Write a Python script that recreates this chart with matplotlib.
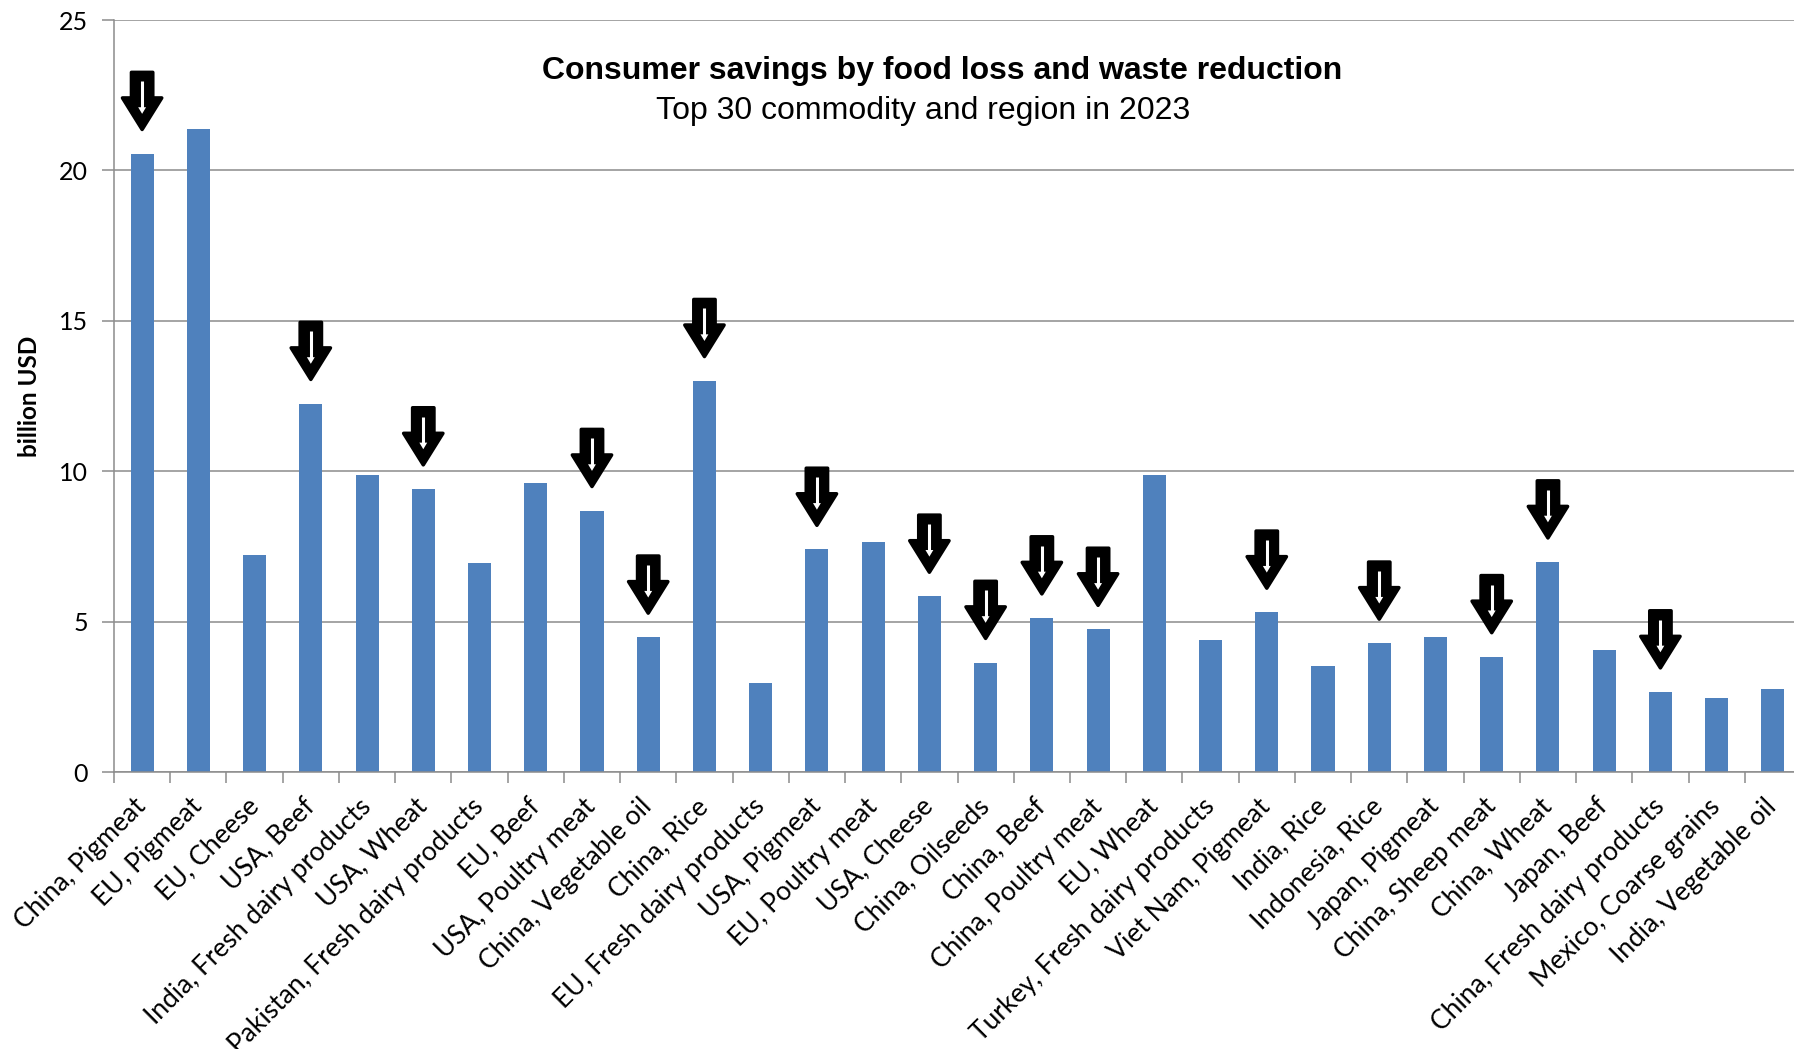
import matplotlib
matplotlib.use("Agg")
import matplotlib.pyplot as plt
from matplotlib.patches import Polygon
import numpy as np

categories = [
    "China, Pigmeat", "EU, Pigmeat", "EU, Cheese", "USA, Beef",
    "India, Fresh dairy products", "USA, Wheat", "Pakistan, Fresh dairy products",
    "EU, Beef", "USA, Poultry meat", "China, Vegetable oil", "China, Rice",
    "EU, Fresh dairy products", "USA, Pigmeat", "EU, Poultry meat", "USA, Cheese",
    "China, Oilseeds", "China, Beef", "China, Poultry meat", "EU, Wheat",
    "Turkey, Fresh dairy products", "Viet Nam, Pigmeat", "India, Rice",
    "Indonesia, Rice", "Japan, Pigmeat", "China, Sheep meat", "China, Wheat",
    "Japan, Beef", "China, Fresh dairy products", "Mexico, Coarse grains",
    "India, Vegetable oil",
]
values = [20.56, 21.36, 7.21, 12.25, 9.86, 9.41, 6.94, 9.60, 8.69, 4.48,
          13.01, 2.96, 7.40, 7.66, 5.84, 3.64, 5.12, 4.74, 9.86, 4.40,
          5.31, 3.53, 4.28, 4.48, 3.83, 6.98, 4.04, 2.66, 2.46, 2.77]
# categories marked with a down arrow
arrow_marked = [1, 0, 0, 1, 0, 1, 0, 0, 1, 1,
                1, 0, 1, 0, 1, 1, 1, 1, 0, 0,
                1, 0, 1, 0, 1, 1, 0, 1, 0, 0]
yticks = [0, 5, 10, 15, 20, 25]

title = "Consumer savings by food loss and waste reduction"
subtitle = "Top 30 commodity and region in 2023"
ylabel = "billion USD"

W, H = 1794, 1049
fig = plt.figure(figsize=(W / 100, H / 100), dpi=100)
left, right, top, bottom = 114, 1801, 20, 772
ax = fig.add_axes([left / W, 1 - bottom / H, (right - left) / W, (bottom - top) / H])

bar_color = "#4F81BD"
grid_color = "#8C8C8C"
x = np.arange(len(categories))
ax.bar(x, values, width=0.41, color=bar_color, zorder=2)

ax.set_xlim(-0.5, len(categories) - 0.5)
ax.set_ylim(0, 25)
ax.set_yticks(yticks)
ax.yaxis.grid(True, color=grid_color, linewidth=1.1, zorder=0)
ax.set_axisbelow(True)

for s in ["top", "right"]:
    ax.spines[s].set_visible(False)
for s in ["left", "bottom"]:
    ax.spines[s].set_color(grid_color)
    ax.spines[s].set_linewidth(1.1)

ax.tick_params(axis="y", direction="out", length=8.6, width=1.1, color=grid_color,
               labelsize=18, pad=10, labelcolor="black")
for lab in ax.get_yticklabels():
    lab.set_fontfamily("Lato")

# x: labels at bar centers, tick marks at boundaries
ax.set_xticks(x)
ax.set_xticklabels(categories, rotation=45, ha="right", va="center",
                   rotation_mode="anchor", fontsize=19, family="Lato")
ax.tick_params(axis="x", which="major", length=0, pad=22)
ax.set_xticks(np.arange(-0.5, len(categories) + 0.5, 1.0), minor=True)
ax.tick_params(axis="x", which="minor", direction="out", length=8, width=1.1,
               color=grid_color)

ax.set_ylabel(ylabel, fontsize=17.5, fontweight="bold", family="Lato")
ax.yaxis.set_label_coords(-0.043, 0.5)

fig.text(942 / W, 1 - 71 / H, title, ha="center", va="center", fontsize=23,
         fontweight="bold", family="Liberation Sans")
fig.text(923 / W, 1 - 111 / H, subtitle, ha="center", va="center", fontsize=23,
         family="Liberation Sans")

# down arrows drawn above marked bars
gap = 0.8
shaft_hw, head_hw = 0.19, 0.35
shaft_len, head_len = 0.85, 1.05
for xi, v, m in zip(x, values, arrow_marked):
    if not m:
        continue
    tip = v + gap
    top_y = tip + shaft_len + head_len
    hb = tip + head_len
    outer = [(xi - shaft_hw, top_y), (xi + shaft_hw, top_y), (xi + shaft_hw, hb),
             (xi + head_hw, hb), (xi, tip), (xi - head_hw, hb), (xi - shaft_hw, hb)]
    ax.add_patch(Polygon(outer, closed=True, facecolor="black", edgecolor="black",
                         linewidth=2.5, joinstyle="round", zorder=5, clip_on=False))
    # inner white stem and small head
    st_top = top_y - 0.3
    st_bot = tip + 0.62
    ax.plot([xi, xi], [st_top, st_bot + 0.1], color="white", linewidth=2.2,
            solid_capstyle="butt", zorder=6, clip_on=False)
    inner = [(xi - 0.07, st_bot + 0.12), (xi + 0.07, st_bot + 0.12), (xi, st_bot - 0.1)]
    ax.add_patch(Polygon(inner, closed=True, facecolor="white", edgecolor="none",
                         zorder=6, clip_on=False))

fig.savefig("out.png", dpi=100)
